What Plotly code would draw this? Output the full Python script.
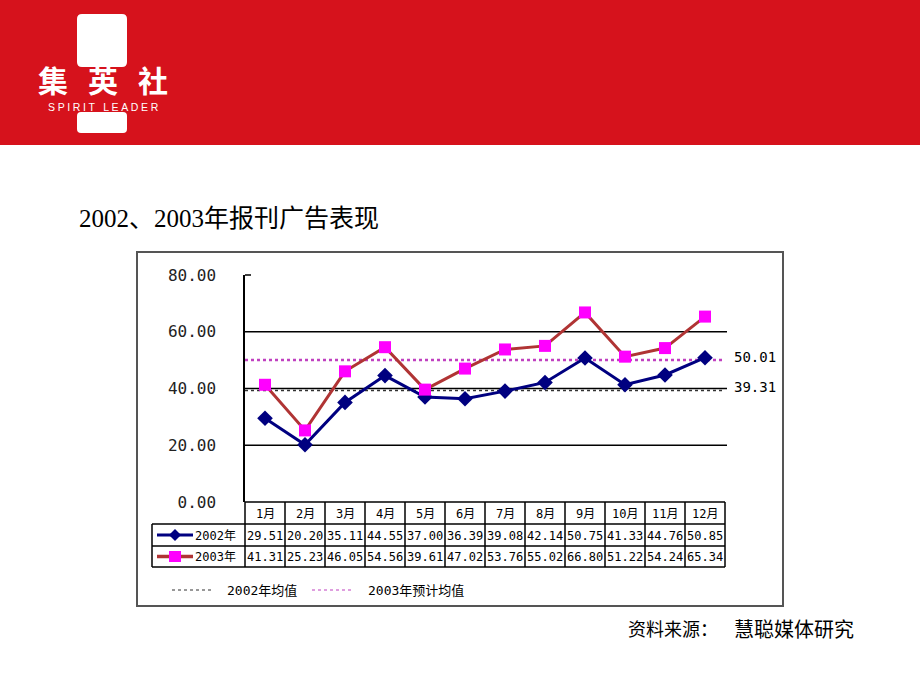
import plotly.graph_objects as go

# ---------------- data ----------------
months = ["1月", "2月", "3月", "4月", "5月", "6月", "7月", "8月", "9月", "10月", "11月", "12月"]
s2002 = [29.51, 20.20, 35.11, 44.55, 37.00, 36.39, 39.08, 42.14, 50.75, 41.33, 44.76, 50.85]
s2003 = [41.31, 25.23, 46.05, 54.56, 39.61, 47.02, 53.76, 55.02, 66.80, 51.22, 54.24, 65.34]
avg2002 = 39.31
avg2003 = 50.01
yticks = [0, 20, 40, 60, 80]
name2002 = "2002年"
name2003 = "2003年"
legend2002 = "2002年均值"
legend2003 = "2003年预计均值"
title_text = "2002、2003年报刊广告表现"
source_label = "资料来源："
source_name = "慧聪媒体研究"

W, H = 920, 690
def X(px):
    return px / W
def Y(py):
    return 1 - py / H

NAVY = "#000080"
RED = "#B03434"
MAG = "#FF00FF"
AVG03 = "#C040C0"
HEADER = "#D6121C"
MONO = "DejaVu Sans Mono, Noto Sans CJK SC"
CJK = "Noto Sans CJK SC"

fig = go.Figure()

xi = list(range(len(months)))
fig.add_trace(go.Scatter(x=[-0.5, 11.5], y=[avg2002, avg2002], mode="lines",
                         line=dict(color="#333333", width=1.5, dash="dot"),
                         hoverinfo="skip", showlegend=False))
fig.add_trace(go.Scatter(x=[-0.5, 11.5], y=[avg2003, avg2003], mode="lines",
                         line=dict(color=AVG03, width=2.5, dash="dot"),
                         hoverinfo="skip", showlegend=False))
fig.add_trace(go.Scatter(x=xi, y=s2002, mode="lines+markers", name=name2002,
                         line=dict(color=NAVY, width=3),
                         marker=dict(symbol="diamond", size=12, color=NAVY),
                         showlegend=False))
fig.add_trace(go.Scatter(x=xi, y=s2003, mode="lines+markers", name=name2003,
                         line=dict(color=RED, width=3),
                         marker=dict(symbol="square", size=12, color=MAG),
                         showlegend=False))

shapes = []
annotations = []

def line(x0, y0, x1, y1, color="black", width=1.5, dash="solid"):
    shapes.append(dict(type="line", xref="paper", yref="paper",
                       x0=X(x0), y0=Y(y0), x1=X(x1), y1=Y(y1),
                       line=dict(color=color, width=width, dash=dash), layer="above"))

def rrect(x0, y0, x1, y1, r, color):
    p = (f"M {X(x0+r)},{Y(y0)} L {X(x1-r)},{Y(y0)} Q {X(x1)},{Y(y0)} {X(x1)},{Y(y0+r)} "
         f"L {X(x1)},{Y(y1-r)} Q {X(x1)},{Y(y1)} {X(x1-r)},{Y(y1)} "
         f"L {X(x0+r)},{Y(y1)} Q {X(x0)},{Y(y1)} {X(x0)},{Y(y1-r)} "
         f"L {X(x0)},{Y(y0+r)} Q {X(x0)},{Y(y0)} {X(x0+r)},{Y(y0)} Z")
    shapes.append(dict(type="path", xref="paper", yref="paper", path=p,
                       fillcolor=color, line=dict(width=0), layer="above"))

# header band
shapes.append(dict(type="rect", xref="paper", yref="paper", x0=0, x1=1, y0=Y(145), y1=1,
                   fillcolor=HEADER, line=dict(width=0), layer="below"))
rrect(77, 14, 127, 67, 5, "white")
rrect(77, 112, 127, 133, 4, "white")
for ch, cx in zip("集英社", [53, 103, 153]):
    annotations.append(dict(text=ch, xref="paper", yref="paper", x=X(cx), y=Y(79),
                            showarrow=False, xanchor="center", yanchor="middle",
                            font=dict(family=CJK, size=30, color="white", weight="bold")))
annotations.append(dict(text="\u2005".join("SPIRIT LEADER"), xref="paper", yref="paper",
                        x=X(103), y=Y(106.5), showarrow=False, xanchor="center", yanchor="middle",
                        font=dict(family="Liberation Sans", size=10.5, color="white")))

# title
annotations.append(dict(text=title_text, xref="paper", yref="paper", x=X(77), y=Y(218),
                        showarrow=False, xanchor="left", yanchor="middle",
                        font=dict(family="Liberation Serif, Noto Sans CJK SC", size=25, color="black")))

# chart frame
shapes.append(dict(type="rect", xref="paper", yref="paper", x0=X(137), x1=X(783),
                   y0=Y(606), y1=Y(252), line=dict(color="#555555", width=2), layer="below"))

# grid lines
for v in [20, 40, 60]:
    shapes.append(dict(type="line", xref="paper", yref="y", x0=X(245), x1=X(727), y0=v, y1=v,
                       line=dict(color="black", width=1.3), layer="below"))
# small tick at top of axis
line(245, 275, 251, 275, width=1.5)

# table
line(245, 502, 725, 502)
for yy in [524, 546, 567]:
    line(152, yy, 725, yy)
line(152, 524, 152, 567)
for k in range(13):
    line(245 + 40 * k, 502, 245 + 40 * k, 567)

for i, m in enumerate(months):
    annotations.append(dict(text=m, xref="x", yref="paper", x=i, y=Y(513.5), showarrow=False,
                            xanchor="center", yanchor="middle",
                            font=dict(family=MONO, size=12, color="black")))
    annotations.append(dict(text=f"{s2002[i]:.2f}", xref="x", yref="paper", x=i, y=Y(535.5),
                            showarrow=False, xanchor="center", yanchor="middle",
                            font=dict(family=MONO, size=12, color="black")))
    annotations.append(dict(text=f"{s2003[i]:.2f}", xref="x", yref="paper", x=i, y=Y(557),
                            showarrow=False, xanchor="center", yanchor="middle",
                            font=dict(family=MONO, size=12, color="black")))

# row labels with keys
annotations.append(dict(text=name2002, xref="paper", yref="paper", x=X(193), y=Y(535.5),
                        showarrow=False, xanchor="left", yanchor="middle",
                        font=dict(family=MONO, size=12, color="black")))
annotations.append(dict(text=name2003, xref="paper", yref="paper", x=X(193), y=Y(557),
                        showarrow=False, xanchor="left", yanchor="middle",
                        font=dict(family=MONO, size=12, color="black")))
line(157, 535, 193, 535, color=NAVY, width=3)
shapes.append(dict(type="path", xref="paper", yref="paper",
                   path=f"M {X(175)},{Y(529)} L {X(181)},{Y(535)} L {X(175)},{Y(541)} L {X(169)},{Y(535)} Z",
                   fillcolor=NAVY, line=dict(width=0), layer="above"))
line(157, 556.5, 193, 556.5, color=RED, width=3.5)
shapes.append(dict(type="rect", xref="paper", yref="paper", x0=X(169), x1=X(181), y0=Y(562), y1=Y(551),
                   fillcolor=MAG, line=dict(width=0), layer="above"))

# bottom legend
line(172, 590, 213, 590, color="#333333", width=1.2, dash="dot")
line(312, 590, 353, 590, color=AVG03, width=1.2, dash="dot")
annotations.append(dict(text=legend2002, xref="paper", yref="paper", x=X(225), y=Y(590),
                        showarrow=False, xanchor="left", yanchor="middle",
                        font=dict(family=MONO, size=13, color="black")))
annotations.append(dict(text=legend2003, xref="paper", yref="paper", x=X(366), y=Y(590),
                        showarrow=False, xanchor="left", yanchor="middle",
                        font=dict(family=MONO, size=13, color="black")))

# average value labels
for v in [avg2003, avg2002]:
    annotations.append(dict(text=f"{v:.2f}", xref="paper", yref="y", x=X(732), y=v, yshift=3,
                            showarrow=False, xanchor="left", yanchor="middle",
                            font=dict(family=MONO, size=14, color="black")))

# source
annotations.append(dict(text=source_label, xref="paper", yref="paper", x=X(626), y=Y(628),
                        showarrow=False, xanchor="left", yanchor="middle",
                        font=dict(family=CJK, size=18, color="black")))
annotations.append(dict(text=source_name, xref="paper", yref="paper", x=X(732), y=Y(628),
                        showarrow=False, xanchor="left", yanchor="middle",
                        font=dict(family=CJK, size=20, color="black")))

fig.update_layout(
    width=W, height=H, margin=dict(l=0, r=0, t=0, b=0, pad=0, autoexpand=False),
    paper_bgcolor="white", plot_bgcolor="white",
    shapes=shapes, annotations=annotations,
    xaxis=dict(domain=[X(245), X(725)], range=[-0.5, 11.5], visible=False, fixedrange=True),
    yaxis=dict(domain=[Y(502), Y(275)], range=[0, 80], tickvals=yticks,
               ticktext=[f"{v:.2f}" for v in yticks], showgrid=False, zeroline=False,
               showline=True, linecolor="black", linewidth=1.5, ticks="",
               ticklabelstandoff=24, automargin=False,
               tickfont=dict(family=MONO, size=16, color="#222222"), fixedrange=True),
    showlegend=False,
)

fig.write_html("out.html", config={"displayModeBar": False})
